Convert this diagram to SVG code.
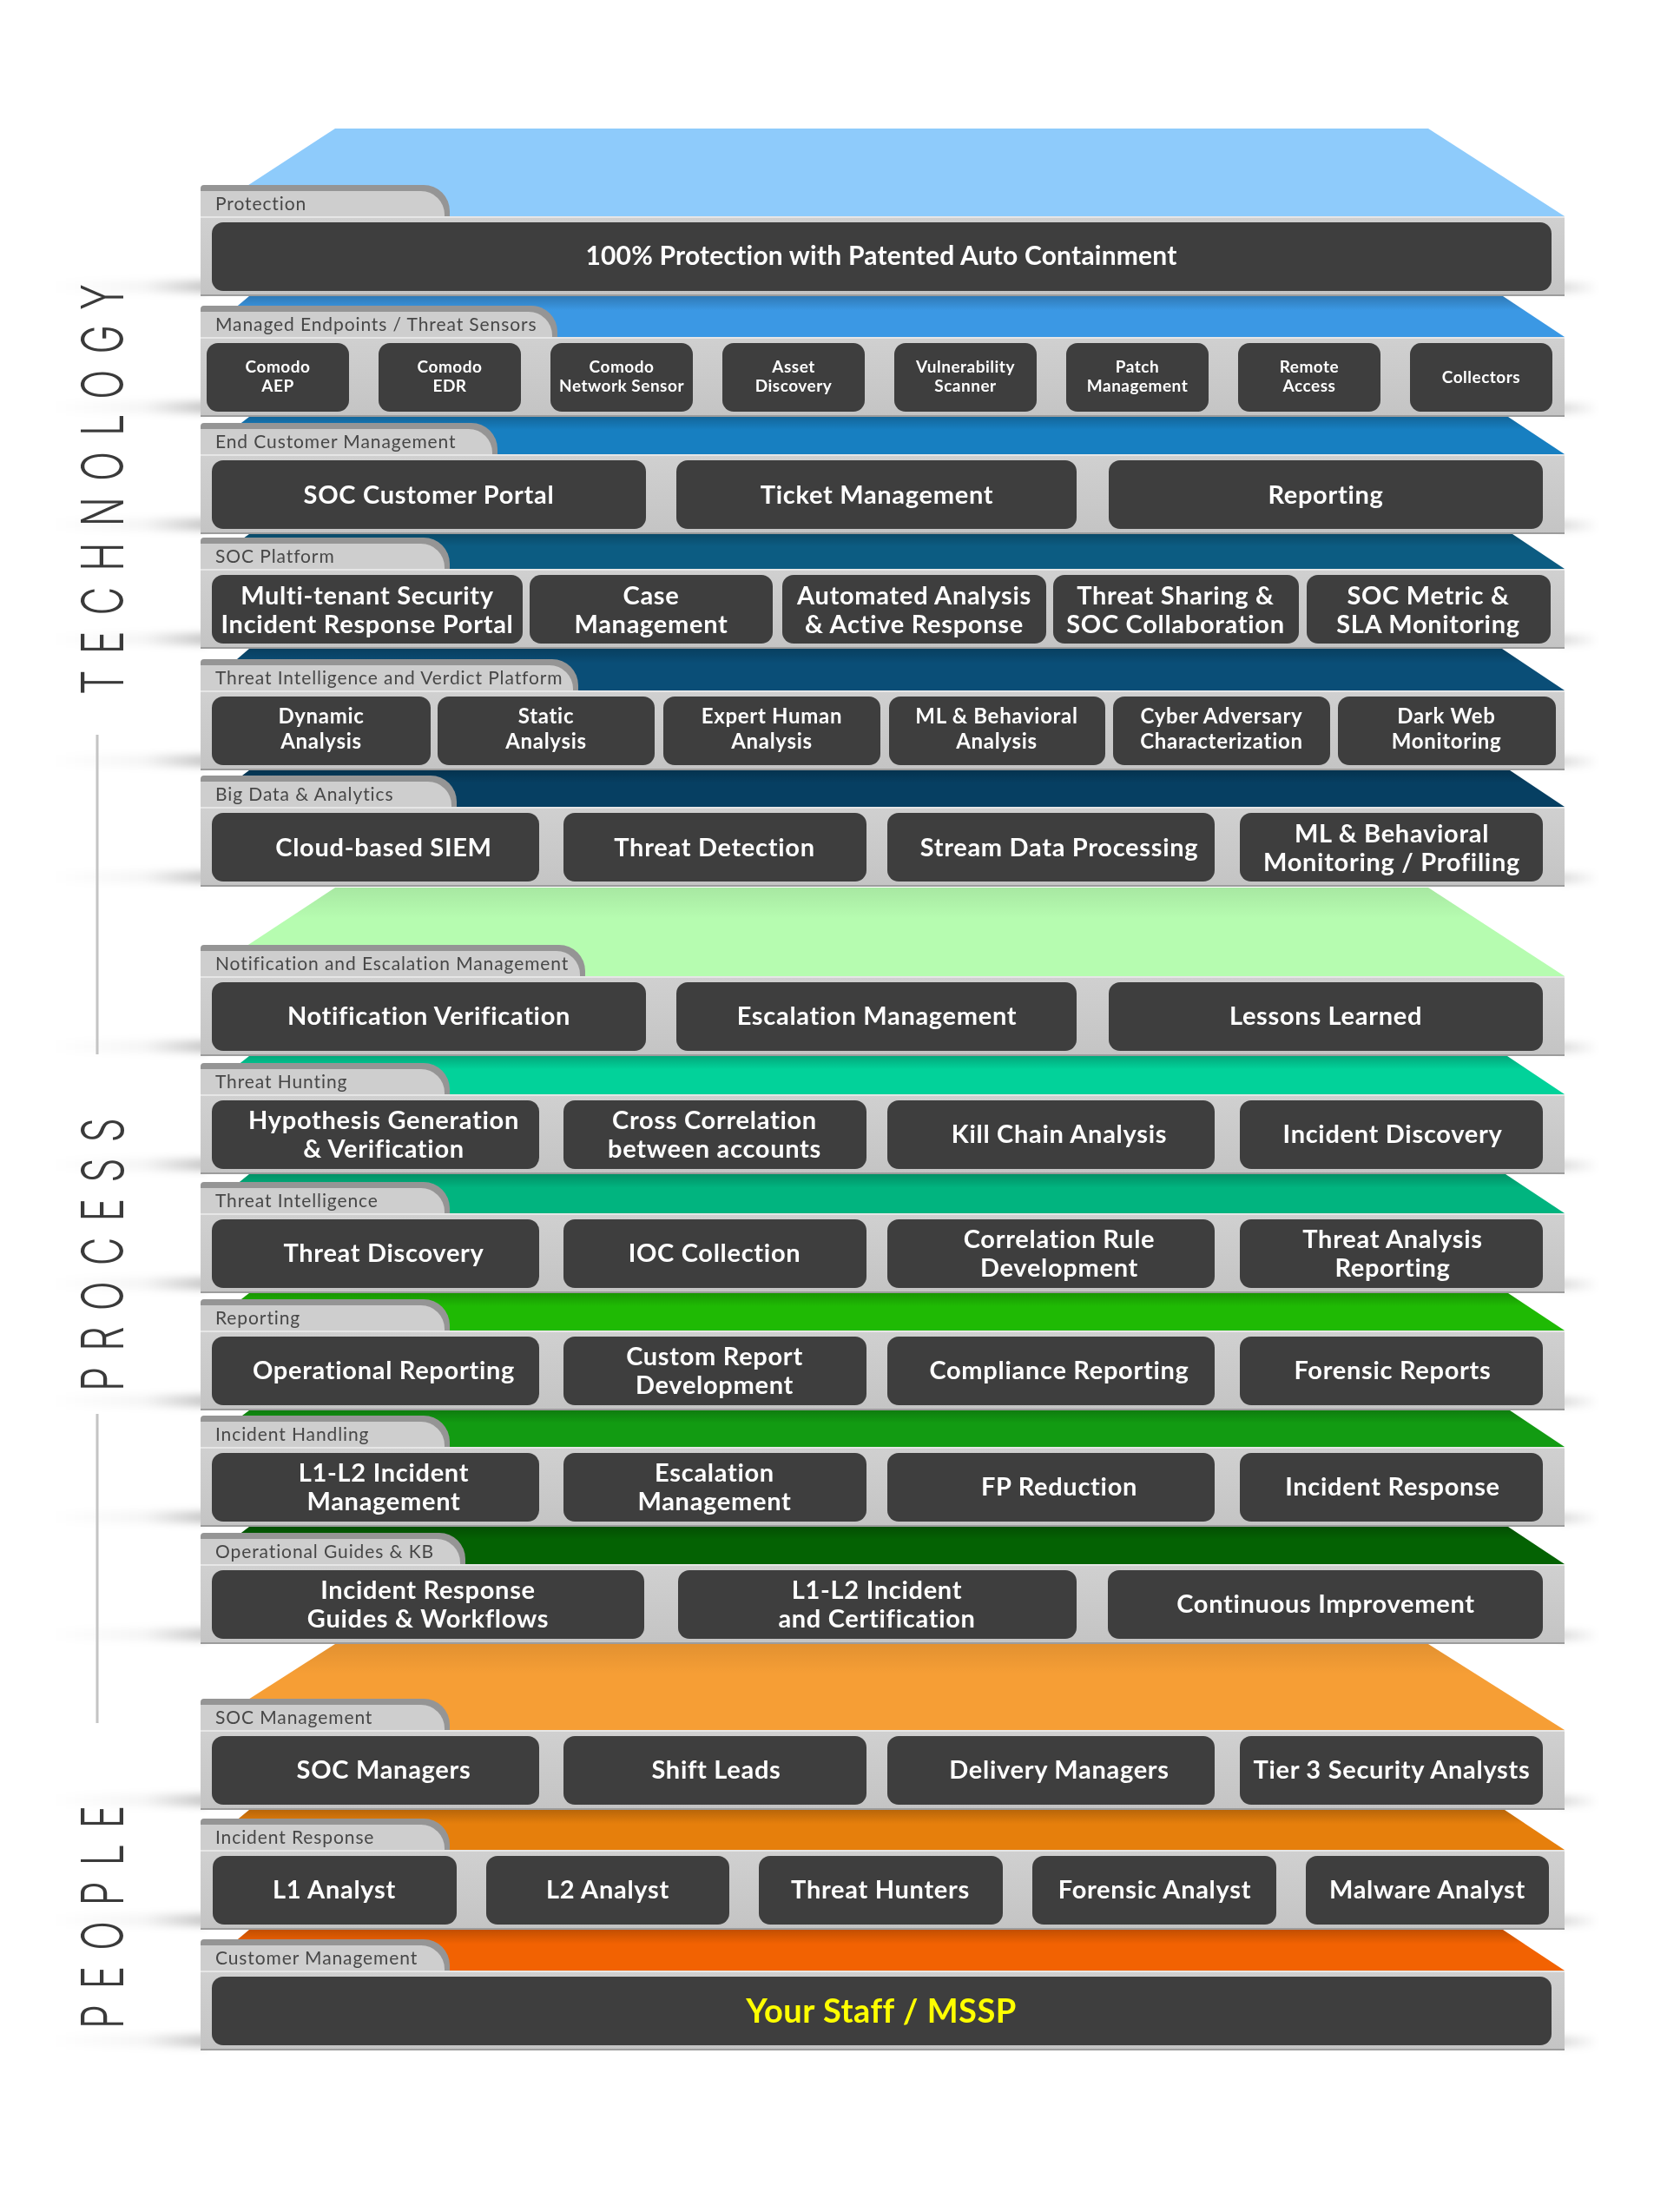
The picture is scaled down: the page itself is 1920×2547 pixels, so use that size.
<svg xmlns="http://www.w3.org/2000/svg" xmlns:xlink="http://www.w3.org/1999/xlink" width="1920" height="2547" viewBox="0 0 1920 2547">
<style>
.tabo{fill:#959595}
.tabi{fill:#cecece}
.lbl{font-family:Lato,'Open Sans','Liberation Sans',sans-serif;font-size:21px;fill:#474747;letter-spacing:0.9px}
.box{fill:#3e3e3e}
.t{font-family:Lato,'Open Sans','Liberation Sans',sans-serif;font-weight:700;fill:#ffffff;text-anchor:middle}
.s19{font-size:19px;letter-spacing:0.5px}
.s23{font-size:24px;letter-spacing:0.7px}
.s27{font-size:29px;letter-spacing:0.7px}
.s28{font-size:29px;letter-spacing:0.7px}
.s29{font-size:30px;letter-spacing:0.2px}
.yel{font-size:38px;fill:#ffff00;letter-spacing:0.5px}
.side{font-family:Inter,'Liberation Sans',sans-serif;font-weight:300;font-size:67px;fill:#3a3a3a;letter-spacing:27px}
.div{stroke:#c4c4c4;stroke-width:3}
</style>
<defs>
<linearGradient id="shade" x1="0" y1="0" x2="0" y2="1"><stop offset="0" stop-color="#000" stop-opacity="0.2"/><stop offset="0.35" stop-color="#000" stop-opacity="0"/></linearGradient>
<linearGradient id="bandG" x1="0" y1="0" x2="0" y2="1"><stop offset="0" stop-color="#d0d0d0"/><stop offset="1" stop-color="#c4c4c4"/></linearGradient>
<linearGradient id="shL" x1="0" y1="0" x2="1" y2="0"><stop offset="0" stop-color="#000" stop-opacity="0"/><stop offset="0.6" stop-color="#000" stop-opacity="0.04"/><stop offset="1" stop-color="#000" stop-opacity="0.22"/></linearGradient>
<linearGradient id="shR" x1="0" y1="0" x2="1" y2="0"><stop offset="0" stop-color="#000" stop-opacity="0.15"/><stop offset="1" stop-color="#000" stop-opacity="0"/></linearGradient>
<filter id="blur" x="-20%" y="-300%" width="140%" height="700%"><feGaussianBlur stdDeviation="3 4"/></filter>
<g id="sh"><rect x="60" y="-18" width="178" height="14" fill="url(#shL)"/><rect x="1796" y="-16" width="45" height="12" fill="url(#shR)"/></g>
<g id="band"><rect x="231" y="0" width="1571" height="92" fill="url(#bandG)"/><rect x="231" y="0" width="1571" height="2" fill="#e6e6e6"/><rect x="231" y="90" width="1571" height="2" fill="#9c9c9c"/></g>
<g id="tab518"><path class="tabo" d="M231,36 V4 Q231,0 235,0 H488 A30,30 0 0 1 518,30 V36 Z"/><path class="tabi" d="M231,36 V7 H485 A27,27 0 0 1 512,34 V36 Z"/></g>
<g id="tab642"><path class="tabo" d="M231,36 V4 Q231,0 235,0 H612 A30,30 0 0 1 642,30 V36 Z"/><path class="tabi" d="M231,36 V7 H609 A27,27 0 0 1 636,34 V36 Z"/></g>
<g id="tab573"><path class="tabo" d="M231,36 V4 Q231,0 235,0 H543 A30,30 0 0 1 573,30 V36 Z"/><path class="tabi" d="M231,36 V7 H540 A27,27 0 0 1 567,34 V36 Z"/></g>
<g id="tab666"><path class="tabo" d="M231,36 V4 Q231,0 235,0 H636 A30,30 0 0 1 666,30 V36 Z"/><path class="tabi" d="M231,36 V7 H633 A27,27 0 0 1 660,34 V36 Z"/></g>
<g id="tab526"><path class="tabo" d="M231,36 V4 Q231,0 235,0 H496 A30,30 0 0 1 526,30 V36 Z"/><path class="tabi" d="M231,36 V7 H493 A27,27 0 0 1 520,34 V36 Z"/></g>
<g id="tab674"><path class="tabo" d="M231,36 V4 Q231,0 235,0 H644 A30,30 0 0 1 674,30 V36 Z"/><path class="tabi" d="M231,36 V7 H641 A27,27 0 0 1 668,34 V36 Z"/></g>
<g id="tab536"><path class="tabo" d="M231,36 V4 Q231,0 235,0 H506 A30,30 0 0 1 536,30 V36 Z"/><path class="tabi" d="M231,36 V7 H503 A27,27 0 0 1 530,34 V36 Z"/></g>
</defs>
<rect x="0" y="0" width="1920" height="2547" fill="#ffffff"/>

<g id="shadows" filter="url(#blur)">
<use href="#sh" y="341"/><use href="#sh" y="480"/><use href="#sh" y="615"/><use href="#sh" y="747"/><use href="#sh" y="887"/><use href="#sh" y="1021"/><use href="#sh" y="1216"/><use href="#sh" y="1352"/><use href="#sh" y="1489"/><use href="#sh" y="1624"/><use href="#sh" y="1758"/><use href="#sh" y="1893"/><use href="#sh" y="2084"/><use href="#sh" y="2222"/><use href="#sh" y="2361"/>
</g>

<g id="side-titles">
<text class="side" transform="translate(142,800) rotate(-90)" textLength="491" lengthAdjust="spacingAndGlyphs">TECHNOLOGY</text>
<text class="side" transform="translate(142,1602) rotate(-90)" textLength="333" lengthAdjust="spacingAndGlyphs">PROCESS</text>
<text class="side" transform="translate(142,2336) rotate(-90)" textLength="275" lengthAdjust="spacingAndGlyphs">PEOPLE</text>
</g>
<g id="connectors">
<line class="div" x1="112" y1="846" x2="112" y2="1214"/>
<line class="div" x1="112" y1="1628" x2="112" y2="1984"/>
</g>

<!-- Layer 1 -->
<g id="layer-protection">
<polygon points="386,148 1645,148 1802,249 231,249" fill="#8ecbfb"/>
<use href="#band" y="249"/>
<use href="#tab518" y="213"/>
<text class="lbl" x="248" y="242">Protection</text>
<g id="n-auto-containment"><rect class="box" x="244" y="256" width="1543" height="79" rx="13"/><text class="t s29" x="1015" y="305">100% Protection with Patented Auto Containment</text></g>
</g>

<!-- Layer 2 -->
<g id="layer-managed-endpoints">
<polygon points="287,341 1731,341 1802,388 231,388" fill="#3b98e4"/>
<polygon points="287,341 1731,341 1802,388 231,388" fill="url(#shade)"/>
<use href="#band" y="388"/>
<use href="#tab642" y="352"/>
<text class="lbl" x="248" y="381">Managed Endpoints / Threat Sensors</text>
<g id="n-comodo-aep"><rect class="box" x="238" y="395" width="164" height="79" rx="13"/><text class="t s19" x="320" y="429">Comodo</text><text class="t s19" x="320" y="451">AEP</text></g>
<g id="n-comodo-edr"><rect class="box" x="436" y="395" width="164" height="79" rx="13"/><text class="t s19" x="518" y="429">Comodo</text><text class="t s19" x="518" y="451">EDR</text></g>
<g id="n-comodo-ns"><rect class="box" x="634" y="395" width="164" height="79" rx="13"/><text class="t s19" x="716" y="429">Comodo</text><text class="t s19" x="716" y="451">Network Sensor</text></g>
<g id="n-asset-discovery"><rect class="box" x="832" y="395" width="164" height="79" rx="13"/><text class="t s19" x="914" y="429">Asset</text><text class="t s19" x="914" y="451">Discovery</text></g>
<g id="n-vuln-scanner"><rect class="box" x="1030" y="395" width="164" height="79" rx="13"/><text class="t s19" x="1112" y="429">Vulnerability</text><text class="t s19" x="1112" y="451">Scanner</text></g>
<g id="n-patch-mgmt"><rect class="box" x="1228" y="395" width="164" height="79" rx="13"/><text class="t s19" x="1310" y="429">Patch</text><text class="t s19" x="1310" y="451">Management</text></g>
<g id="n-remote-access"><rect class="box" x="1426" y="395" width="164" height="79" rx="13"/><text class="t s19" x="1508" y="429">Remote</text><text class="t s19" x="1508" y="451">Access</text></g>
<g id="n-collectors"><rect class="box" x="1624" y="395" width="164" height="79" rx="13"/><text class="t s19" x="1706" y="441">Collectors</text></g>
</g>

<!-- Layer 3 -->
<g id="layer-end-customer">
<polygon points="287,480 1737,480 1802,523 231,523" fill="#177fc1"/>
<polygon points="287,480 1737,480 1802,523 231,523" fill="url(#shade)"/>
<use href="#band" y="523"/>
<use href="#tab573" y="487"/>
<text class="lbl" x="248" y="516">End Customer Management</text>
<g id="n-soc-portal"><rect class="box" x="244" y="530" width="500" height="79" rx="13"/><text class="t s28" x="494" y="580">SOC Customer Portal</text></g>
<g id="n-ticket-mgmt"><rect class="box" x="779" y="530" width="461" height="79" rx="13"/><text class="t s28" x="1010" y="580">Ticket Management</text></g>
<g id="n-reporting-ec"><rect class="box" x="1277" y="530" width="500" height="79" rx="13"/><text class="t s28" x="1527" y="580">Reporting</text></g>
</g>

<!-- Layer 4 -->
<g id="layer-soc-platform">
<polygon points="287,615 1742,615 1802,655 231,655" fill="#0c5c82"/>
<polygon points="287,615 1742,615 1802,655 231,655" fill="url(#shade)"/>
<use href="#band" y="655"/>
<use href="#tab518" y="619"/>
<text class="lbl" x="248" y="648">SOC Platform</text>
<g id="n-multitenant"><rect class="box" x="244" y="662" width="358" height="79" rx="13"/><text class="t s27" x="423" y="696">Multi-tenant Security</text><text class="t s27" x="423" y="729">Incident Response Portal</text></g>
<g id="n-case-mgmt"><rect class="box" x="610" y="662" width="280" height="79" rx="13"/><text class="t s27" x="750" y="696">Case</text><text class="t s27" x="750" y="729">Management</text></g>
<g id="n-auto-analysis"><rect class="box" x="901" y="662" width="304" height="79" rx="13"/><text class="t s27" x="1053" y="696">Automated Analysis</text><text class="t s27" x="1053" y="729">&amp; Active Response</text></g>
<g id="n-threat-sharing"><rect class="box" x="1213" y="662" width="283" height="79" rx="13"/><text class="t s27" x="1354" y="696">Threat Sharing &amp;</text><text class="t s27" x="1354" y="729">SOC Collaboration</text></g>
<g id="n-soc-metric"><rect class="box" x="1505" y="662" width="281" height="79" rx="13"/><text class="t s27" x="1645" y="696">SOC Metric &amp;</text><text class="t s27" x="1645" y="729">SLA Monitoring</text></g>
</g>

<!-- Layer 5 -->
<g id="layer-threat-intel-verdict">
<polygon points="287,747 1730,747 1802,795 231,795" fill="#0a4e77"/>
<polygon points="287,747 1730,747 1802,795 231,795" fill="url(#shade)"/>
<use href="#band" y="795"/>
<use href="#tab666" y="759"/>
<text class="lbl" x="248" y="788">Threat Intelligence and Verdict Platform</text>
<g id="n-dynamic"><rect class="box" x="244" y="802" width="252" height="79" rx="13"/><text class="t s23" x="370" y="833">Dynamic</text><text class="t s23" x="370" y="862">Analysis</text></g>
<g id="n-static"><rect class="box" x="504" y="802" width="250" height="79" rx="13"/><text class="t s23" x="629" y="833">Static</text><text class="t s23" x="629" y="862">Analysis</text></g>
<g id="n-expert"><rect class="box" x="764" y="802" width="250" height="79" rx="13"/><text class="t s23" x="889" y="833">Expert Human</text><text class="t s23" x="889" y="862">Analysis</text></g>
<g id="n-ml-analysis"><rect class="box" x="1024" y="802" width="249" height="79" rx="13"/><text class="t s23" x="1148" y="833">ML &amp; Behavioral</text><text class="t s23" x="1148" y="862">Analysis</text></g>
<g id="n-cyber-adversary"><rect class="box" x="1282" y="802" width="250" height="79" rx="13"/><text class="t s23" x="1407" y="833">Cyber Adversary</text><text class="t s23" x="1407" y="862">Characterization</text></g>
<g id="n-dark-web"><rect class="box" x="1541" y="802" width="251" height="79" rx="13"/><text class="t s23" x="1666" y="833">Dark Web</text><text class="t s23" x="1666" y="862">Monitoring</text></g>
</g>

<!-- Layer 6 -->
<g id="layer-big-data">
<polygon points="287,887 1739,887 1802,929 231,929" fill="#063f62"/>
<polygon points="287,887 1739,887 1802,929 231,929" fill="url(#shade)"/>
<use href="#band" y="929"/>
<use href="#tab526" y="893"/>
<text class="lbl" x="248" y="922">Big Data &amp; Analytics</text>
<g id="n-siem"><rect class="box" x="244" y="936" width="377" height="79" rx="13"/><text class="t s28" x="442" y="986">Cloud-based SIEM</text></g>
<g id="n-threat-detection"><rect class="box" x="649" y="936" width="349" height="79" rx="13"/><text class="t s28" x="823" y="986">Threat Detection</text></g>
<g id="n-stream"><rect class="box" x="1022" y="936" width="377" height="79" rx="13"/><text class="t s28" x="1220" y="986">Stream Data Processing</text></g>
<g id="n-ml-monitoring"><rect class="box" x="1428" y="936" width="349" height="79" rx="13"/><text class="t s27" x="1603" y="970">ML &amp; Behavioral</text><text class="t s27" x="1603" y="1003">Monitoring / Profiling</text></g>
</g>

<!-- Layer 7 -->
<g id="layer-notification">
<polygon points="386,1022 1645,1022 1802,1124 231,1124" fill="#b6fcb0"/>
<polygon points="386,1022 1645,1022 1802,1124 231,1124" fill="url(#shade)" opacity="0.4"/>
<use href="#band" y="1124"/>
<use href="#tab674" y="1088"/>
<text class="lbl" x="248" y="1117">Notification and Escalation Management</text>
<g id="n-notif-verif"><rect class="box" x="244" y="1131" width="500" height="79" rx="13"/><text class="t s28" x="494" y="1180">Notification Verification</text></g>
<g id="n-escalation-mgmt"><rect class="box" x="779" y="1131" width="461" height="79" rx="13"/><text class="t s28" x="1010" y="1180">Escalation Management</text></g>
<g id="n-lessons"><rect class="box" x="1277" y="1131" width="500" height="79" rx="13"/><text class="t s28" x="1527" y="1180">Lessons Learned</text></g>
</g>

<!-- Layer 8 -->
<g id="layer-threat-hunting">
<polygon points="287,1216 1736,1216 1802,1260 231,1260" fill="#02d29a"/>
<polygon points="287,1216 1736,1216 1802,1260 231,1260" fill="url(#shade)"/>
<use href="#band" y="1260"/>
<use href="#tab518" y="1224"/>
<text class="lbl" x="248" y="1253">Threat Hunting</text>
<g id="n-hypothesis"><rect class="box" x="244" y="1267" width="377" height="79" rx="13"/><text class="t s28" x="442" y="1300">Hypothesis Generation</text><text class="t s28" x="442" y="1333">&amp; Verification</text></g>
<g id="n-cross-corr"><rect class="box" x="649" y="1267" width="349" height="79" rx="13"/><text class="t s28" x="823" y="1300">Cross Correlation</text><text class="t s28" x="823" y="1333">between accounts</text></g>
<g id="n-kill-chain"><rect class="box" x="1022" y="1267" width="377" height="79" rx="13"/><text class="t s28" x="1220" y="1316">Kill Chain Analysis</text></g>
<g id="n-incident-discovery"><rect class="box" x="1428" y="1267" width="349" height="79" rx="13"/><text class="t s28" x="1604" y="1316">Incident Discovery</text></g>
</g>

<!-- Layer 9 -->
<g id="layer-threat-intelligence">
<polygon points="287,1352 1734,1352 1802,1397 231,1397" fill="#01b47f"/>
<polygon points="287,1352 1734,1352 1802,1397 231,1397" fill="url(#shade)"/>
<use href="#band" y="1397"/>
<use href="#tab518" y="1361"/>
<text class="lbl" x="248" y="1390">Threat Intelligence</text>
<g id="n-threat-discovery"><rect class="box" x="244" y="1404" width="377" height="79" rx="13"/><text class="t s28" x="442" y="1453">Threat Discovery</text></g>
<g id="n-ioc"><rect class="box" x="649" y="1404" width="349" height="79" rx="13"/><text class="t s28" x="823" y="1453">IOC Collection</text></g>
<g id="n-corr-rule"><rect class="box" x="1022" y="1404" width="377" height="79" rx="13"/><text class="t s28" x="1220" y="1437">Correlation Rule</text><text class="t s28" x="1220" y="1470">Development</text></g>
<g id="n-threat-analysis"><rect class="box" x="1428" y="1404" width="349" height="79" rx="13"/><text class="t s28" x="1604" y="1437">Threat Analysis</text><text class="t s28" x="1604" y="1470">Reporting</text></g>
</g>

<!-- Layer 10 -->
<g id="layer-reporting">
<polygon points="287,1489 1737,1489 1802,1532 231,1532" fill="#1fba04"/>
<polygon points="287,1489 1737,1489 1802,1532 231,1532" fill="url(#shade)"/>
<use href="#band" y="1532"/>
<use href="#tab518" y="1496"/>
<text class="lbl" x="248" y="1525">Reporting</text>
<g id="n-operational-reporting"><rect class="box" x="244" y="1539" width="377" height="79" rx="13"/><text class="t s28" x="442" y="1588">Operational Reporting</text></g>
<g id="n-custom-report"><rect class="box" x="649" y="1539" width="349" height="79" rx="13"/><text class="t s28" x="823" y="1572">Custom Report</text><text class="t s28" x="823" y="1605">Development</text></g>
<g id="n-compliance"><rect class="box" x="1022" y="1539" width="377" height="79" rx="13"/><text class="t s28" x="1220" y="1588">Compliance Reporting</text></g>
<g id="n-forensic-reports"><rect class="box" x="1428" y="1539" width="349" height="79" rx="13"/><text class="t s28" x="1604" y="1588">Forensic Reports</text></g>
</g>

<!-- Layer 11 -->
<g id="layer-incident-handling">
<polygon points="287,1624 1739,1624 1802,1666 231,1666" fill="#129b12"/>
<polygon points="287,1624 1739,1624 1802,1666 231,1666" fill="url(#shade)"/>
<use href="#band" y="1666"/>
<use href="#tab518" y="1630"/>
<text class="lbl" x="248" y="1659">Incident Handling</text>
<g id="n-l1l2-mgmt"><rect class="box" x="244" y="1673" width="377" height="79" rx="13"/><text class="t s28" x="442" y="1706">L1-L2 Incident</text><text class="t s28" x="442" y="1739">Management</text></g>
<g id="n-escalation"><rect class="box" x="649" y="1673" width="349" height="79" rx="13"/><text class="t s28" x="823" y="1706">Escalation</text><text class="t s28" x="823" y="1739">Management</text></g>
<g id="n-fp-reduction"><rect class="box" x="1022" y="1673" width="377" height="79" rx="13"/><text class="t s28" x="1220" y="1722">FP Reduction</text></g>
<g id="n-incident-response"><rect class="box" x="1428" y="1673" width="349" height="79" rx="13"/><text class="t s28" x="1604" y="1722">Incident Response</text></g>
</g>

<!-- Layer 12 -->
<g id="layer-operational-guides">
<polygon points="287,1758 1737,1758 1802,1801 231,1801" fill="#046203"/>
<polygon points="287,1758 1737,1758 1802,1801 231,1801" fill="url(#shade)"/>
<use href="#band" y="1801"/>
<use href="#tab536" y="1765"/>
<text class="lbl" x="248" y="1794">Operational Guides &amp; KB</text>
<g id="n-ir-guides"><rect class="box" x="244" y="1808" width="498" height="79" rx="13"/><text class="t s28" x="493" y="1841">Incident Response</text><text class="t s28" x="493" y="1874">Guides &amp; Workflows</text></g>
<g id="n-l1l2-cert"><rect class="box" x="781" y="1808" width="459" height="79" rx="13"/><text class="t s28" x="1010" y="1841">L1-L2 Incident</text><text class="t s28" x="1010" y="1874">and Certification</text></g>
<g id="n-continuous"><rect class="box" x="1276" y="1808" width="501" height="79" rx="13"/><text class="t s28" x="1527" y="1857">Continuous Improvement</text></g>
</g>

<!-- Layer 13 -->
<g id="layer-soc-management">
<polygon points="386,1893 1645,1893 1802,1992 231,1992" fill="#f69e35"/>
<polygon points="386,1893 1645,1893 1802,1992 231,1992" fill="url(#shade)" opacity="0.4"/>
<use href="#band" y="1992"/>
<use href="#tab518" y="1956"/>
<text class="lbl" x="248" y="1985">SOC Management</text>
<g id="n-soc-managers"><rect class="box" x="244" y="1999" width="377" height="79" rx="13"/><text class="t s28" x="442" y="2048">SOC Managers</text></g>
<g id="n-shift-leads"><rect class="box" x="649" y="1999" width="349" height="79" rx="13"/><text class="t s28" x="825" y="2048">Shift Leads</text></g>
<g id="n-delivery"><rect class="box" x="1022" y="1999" width="377" height="79" rx="13"/><text class="t s28" x="1220" y="2048">Delivery Managers</text></g>
<g id="n-tier3"><rect class="box" x="1428" y="1999" width="349" height="79" rx="13"/><text class="t s28" x="1603" y="2048">Tier 3 Security Analysts</text></g>
</g>

<!-- Layer 14 -->
<g id="layer-incident-response">
<polygon points="287,2084 1733,2084 1802,2130 231,2130" fill="#e67f0c"/>
<polygon points="287,2084 1733,2084 1802,2130 231,2130" fill="url(#shade)"/>
<use href="#band" y="2130"/>
<use href="#tab518" y="2094"/>
<text class="lbl" x="248" y="2123">Incident Response</text>
<g id="n-l1"><rect class="box" x="245" y="2137" width="281" height="79" rx="13"/><text class="t s28" x="385" y="2186">L1 Analyst</text></g>
<g id="n-l2"><rect class="box" x="560" y="2137" width="280" height="79" rx="13"/><text class="t s28" x="700" y="2186">L2 Analyst</text></g>
<g id="n-hunters"><rect class="box" x="874" y="2137" width="281" height="79" rx="13"/><text class="t s28" x="1014" y="2186">Threat Hunters</text></g>
<g id="n-forensic"><rect class="box" x="1189" y="2137" width="281" height="79" rx="13"/><text class="t s28" x="1330" y="2186">Forensic Analyst</text></g>
<g id="n-malware"><rect class="box" x="1504" y="2137" width="280" height="79" rx="13"/><text class="t s28" x="1644" y="2186">Malware Analyst</text></g>
</g>

<!-- Layer 15 -->
<g id="layer-customer-management">
<polygon points="287,2222 1731,2222 1802,2269 231,2269" fill="#f26202"/>
<polygon points="287,2222 1731,2222 1802,2269 231,2269" fill="url(#shade)"/>
<use href="#band" y="2269"/>
<use href="#tab518" y="2233"/>
<text class="lbl" x="248" y="2262">Customer Management</text>
<g id="n-your-staff"><rect class="box" x="244" y="2276" width="1543" height="79" rx="13"/><text class="t yel" x="1015" y="2329">Your Staff / MSSP</text></g>
</g>
</svg>
